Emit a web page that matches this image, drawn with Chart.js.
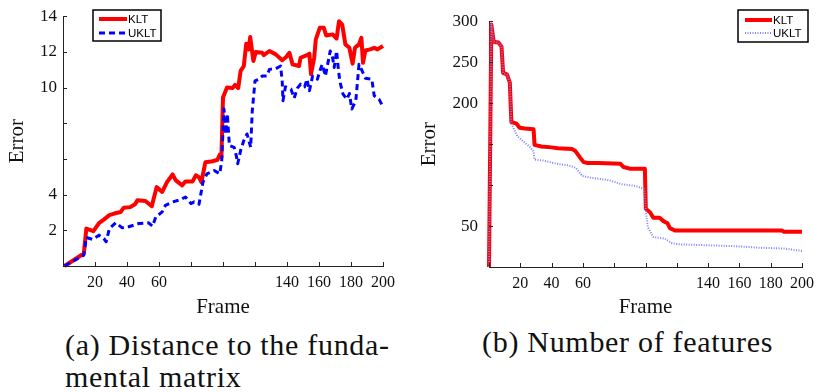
<!DOCTYPE html>
<html>
<head>
<meta charset="utf-8">
<script src="https://cdn.jsdelivr.net/npm/chart.js@4/dist/chart.umd.min.js"></script>
<style>
    body { margin: 0; width: 821px; height: 392px; background: #fff; position: relative; overflow: hidden; }
    .panel { position: absolute; top: 0; }
    .caption { position: absolute; font-family: 'Liberation Serif', serif; font-size: 30px; line-height: 32px; color: #111; letter-spacing: 0.7px; white-space: nowrap; }
</style>
</head>
<body>
<div class="panel" style="left:0;"><canvas id="distanceChart" width="410" height="320"></canvas></div>
<div class="panel" style="left:410px;"><canvas id="featuresChart" width="411" height="320"></canvas></div>
<div class="caption" style="left:65px; top:329px;">(a) Distance to the funda-<br>mental matrix</div>
<div class="caption" style="left:482px; top:326px;">(b) Number of features</div>
<script>
// (a) distance to the fundamental matrix
const kltFramesA = [1, 13, 14.6, 19, 22.5, 25.5, 29, 32, 36, 38, 42, 45, 46.5, 51.5, 55.5, 58.5, 62, 65, 68.5, 70.5,
    74.5, 76.5, 81, 83, 85, 86.5, 89, 93.5, 96.5, 98, 99, 100, 102.5, 106, 107.5, 109.5, 111, 113, 114.5, 116,
    117, 119, 120.5, 124.5, 125.5, 129, 133, 137, 139.5, 141.5, 143.5, 147.5, 148.5, 152.5, 154, 155, 157, 158, 160.5, 163,
    164.5, 168.5, 171, 172.5, 174.5, 176.5, 179, 181, 182.5, 185, 186.5, 187.5, 189, 192, 194.5, 196.5, 200];
const kltErrorA = [0, 0.7, 2.1, 1.95, 2.4, 2.6, 2.85, 2.94, 3.03, 3.27, 3.3, 3.46, 3.68, 3.64, 3.35, 4.42, 4.15, 4.7, 5.13, 4.8,
    4.52, 4.74, 4.74, 5.08, 4.98, 4.7, 5.82, 5.87, 5.95, 6.25, 6.1, 9.44, 10.0, 9.97, 10.15, 9.97, 10.93, 11.2, 12.45, 12.14,
    12.83, 11.49, 12.0, 11.95, 11.82, 12.05, 11.86, 11.53, 11.71, 11.95, 11.3, 11.21, 11.67, 11.82, 11.9, 10.75, 11.67, 12.7, 13.35, 13.35,
    12.92, 12.98, 12.75, 13.72, 13.53, 12.42, 12.23, 11.34, 12.23, 12.42, 12.79, 11.39, 12.08, 12.14, 12.23, 12.14, 12.33];
const ukltFramesA = [1, 13, 14.6, 18.5, 22.5, 25.5, 27, 29, 33, 37, 41, 47.5, 53.5, 56, 58, 62, 64, 68.5, 73.5, 76.5,
    80, 82, 85, 87.5, 90, 94.5, 98, 99.2, 100.6, 101.7, 102.7, 104, 107, 108.3, 109.2, 111, 113, 115, 117.3, 118.3,
    120, 122.5, 124.5, 127.5, 129, 133, 136, 137, 137.5, 139, 142.5, 144.5, 146.5, 148.5, 151, 152.5, 154, 156, 159, 160.5,
    162, 164, 166, 167, 168.5, 169.5, 171, 172, 173, 175, 177.5, 179, 180.5, 183, 185, 187, 189, 193, 194.5, 197.5, 200];
const ukltErrorA = [0, 0.61, 1.6, 1.49, 1.73, 1.54, 1.36, 2.1, 2.42, 2.14, 2.2, 2.38, 2.42, 2.23, 2.75, 3.03, 3.4, 3.59, 3.72, 3.87,
    3.5, 3.59, 3.46, 4.7, 5.17, 5.35, 5.17, 5.91, 8.8, 7.4, 8.52, 6.75, 6.65, 6.19, 5.73, 6.47, 7.03, 7.4, 6.65, 8.7,
    10.37, 10.47, 10.65, 10.65, 11.02, 11.06, 11.21, 10.37, 9.26, 10.04, 9.91, 9.41, 9.97, 10.19, 10.04, 10.47, 9.82, 10.65, 10.47, 10.93,
    11.3, 10.65, 11.58, 12.05, 11.67, 11.12, 12.05, 11.12, 10.37, 9.63, 9.35, 9.67, 8.8, 9.26, 11.3, 10.93, 10.52, 10.47, 9.54, 9.35, 8.92];

// (b) number of features
const kltFramesB = [0, 1.5, 3, 6, 8, 9, 11.5, 13.3, 14.3, 17.5, 19.6, 23, 28.5, 29.1, 33.5, 40, 44, 53, 55, 58,
    60.5, 63, 70, 84, 86, 90, 99.6, 100.2, 103, 105, 109, 111.5, 114, 115.6, 118.8, 187, 188.5, 200];
const kltCountB = [0, 296, 275, 274, 269, 237, 235, 225, 177, 175, 170, 169, 168, 149, 147, 146, 145, 144, 142, 134,
    128, 127, 127, 126, 122, 120, 120, 71, 66.5, 60, 60, 56, 53.5, 47.5, 44.6, 44.6, 43, 43];
const ukltFramesB = [0, 1.5, 3, 6, 8, 9, 11.5, 13.3, 14.3, 18, 22, 26, 28.5, 29.1, 34.5, 43, 51, 55.5, 59.7, 65,
    76.5, 85, 93.5, 99.4, 100.2, 101.5, 105, 112.5, 116.5, 121, 140, 159, 171.5, 188.5, 200];
const ukltCountB = [0, 296, 275, 274, 269, 237, 235, 225, 175, 160, 153, 147, 141, 131, 130, 126, 124, 121, 111, 109,
    106, 101, 99, 95, 69, 48.6, 36.5, 34.6, 29.3, 27.7, 26.5, 25.3, 23.7, 22.5, 19.6];

const frameTicks = [0, 20, 40, 60, 80, 100, 120, 140, 160, 180, 200];
const frameLabels = ['', '20', '40', '60', '', '', '', '140', '160', '180', '200'];
const errorLabelsA = { 2: '2', 4: '4', 10: '10', 12: '12', 14: '14' };
const countLabelsB = { 50: '50', 200: '200', 250: '250', 300: '300' };

const serif = 'Liberation Serif';

const toPoints = (xs, ys) => xs.map((x, i) => ({ x: x, y: ys[i] }));

// matlab style: ticks point into the plot area
const inwardTicks = {
    id: 'inwardTicks',
    afterDatasetsDraw(chart) {
        const ctx = chart.ctx;
        const area = chart.chartArea;
        ctx.save();
        ctx.strokeStyle = '#222';
        ctx.lineWidth = 1;
        const xs = chart.scales.x;
        xs.ticks.forEach((t, i) => {
            const px = Math.round(xs.getPixelForTick(i)) + 0.5;
            ctx.beginPath();
            ctx.moveTo(px, area.bottom);
            ctx.lineTo(px, area.bottom - 4);
            ctx.stroke();
        });
        const ys = chart.scales.y;
        ys.ticks.forEach((t, i) => {
            const py = Math.round(ys.getPixelForTick(i)) + 0.5;
            ctx.beginPath();
            ctx.moveTo(area.left, py);
            ctx.lineTo(area.left + 4, py);
            ctx.stroke();
        });
        ctx.restore();
    },
};

// boxed legend sitting inside the plot
const boxLegend = {
    id: 'boxLegend',
    afterDraw(chart, args, opts) {
        const ctx = chart.ctx;
        const b = opts.box;
        ctx.save();
        ctx.fillStyle = '#fff';
        ctx.fillRect(b[0], b[1], b[2], b[3]);
        ctx.strokeStyle = '#000';
        ctx.lineWidth = 1.5;
        ctx.strokeRect(b[0], b[1], b[2], b[3]);
        chart.data.datasets.forEach((ds, i) => {
            const y = opts.rows[i];
            ctx.beginPath();
            ctx.strokeStyle = ds.borderColor;
            ctx.lineWidth = ds.borderWidth;
            ctx.setLineDash(ds.borderDash || []);
            ctx.moveTo(opts.lineX[0], y);
            ctx.lineTo(opts.lineX[1], y);
            ctx.stroke();
            ctx.setLineDash([]);
            ctx.fillStyle = '#000';
            ctx.font = '11.5px "Liberation Sans"';
            ctx.textBaseline = 'middle';
            ctx.fillText(ds.label, opts.lineX[1] + 1, y + 0.5);
        });
        ctx.restore();
    },
};

function makeChart(id, cfg) {
    return new Chart(document.getElementById(id), {
        type: 'line',
        data: {
            datasets: [
                {
                    label: 'KLT',
                    data: cfg.klt,
                    borderColor: '#ff0000',
                    borderWidth: 4,
                    order: 1,
                },
                {
                    label: 'UKLT',
                    data: cfg.uklt,
                    borderColor: cfg.ukltColor,
                    borderWidth: cfg.ukltWidth,
                    borderDash: cfg.ukltDash,
                    order: 0,
                },
            ],
        },
        options: {
            responsive: false,
            animation: false,
            clip: false,
            elements: {
                point: { radius: 0 },
                line: { tension: 0, borderJoinStyle: 'round', borderCapStyle: 'butt' },
            },
            layout: { padding: cfg.padding },
            plugins: {
                legend: { display: false },
                tooltip: { enabled: false },
                boxLegend: cfg.legend,
            },
            scales: {
                x: {
                    type: 'linear',
                    min: 0,
                    max: 200,
                    afterBuildTicks: (scale) => {
                        scale.ticks = frameTicks.map((v) => ({ value: v }));
                    },
                    afterFit: (scale) => {
                        scale.height = cfg.xHeight;
                    },
                    grid: { display: true, drawOnChartArea: false, drawTicks: false },
                    border: { display: true, color: '#222', width: 1 },
                    ticks: {
                        autoSkip: false,
                        maxRotation: 0,
                        padding: 7,
                        color: '#111',
                        font: { family: serif, size: 16 },
                        callback: (value) => frameLabels[frameTicks.indexOf(value)],
                    },
                    title: {
                        display: true,
                        text: 'Frame',
                        color: '#111',
                        font: { family: serif, size: 21 },
                        padding: { top: 0, bottom: 0 },
                    },
                },
                y: {
                    min: 0,
                    max: cfg.yMax,
                    afterFit: (scale) => {
                        scale.width = cfg.yWidth;
                    },
                    grid: { display: true, drawOnChartArea: false, drawTicks: false },
                    border: { display: true, color: '#222', width: 1 },
                    ticks: {
                        stepSize: cfg.yStep,
                        padding: cfg.yPad,
                        color: '#111',
                        font: { family: serif, size: 17 },
                        callback: (value) => cfg.yLabels[value] || '',
                    },
                    title: {
                        display: true,
                        text: 'Error',
                        color: '#111',
                        font: { family: serif, size: 21 },
                        padding: { top: cfg.titlePad, bottom: 0 },
                    },
                },
            },
        },
        plugins: [inwardTicks, boxLegend],
    });
}

makeChart('distanceChart', {
    klt: toPoints(kltFramesA, kltErrorA),
    uklt: toPoints(ukltFramesA, ukltErrorA),
    ukltColor: '#0000ff',
    ukltWidth: 3,
    ukltDash: [6, 4],
    padding: { top: 15, right: 27, bottom: 0, left: 0 },
    xHeight: 54,
    yWidth: 63,
    yMax: 14,
    yStep: 2,
    yPad: 6,
    yLabels: errorLabelsA,
    titlePad: 5,
    legend: { box: [93, 10, 68, 31], lineX: [99, 127], rows: [19, 33] },
});

makeChart('featuresChart', {
    klt: toPoints(kltFramesB, kltCountB),
    uklt: toPoints(ukltFramesB, ukltCountB),
    ukltColor: '#7f7fff',
    ukltWidth: 2,
    ukltDash: [1, 1.5],
    padding: { top: 18, right: 16, bottom: 0, left: 0 },
    xHeight: 53,
    yWidth: 79,
    yMax: 300,
    yStep: 50,
    yPad: 11,
    yLabels: countLabelsB,
    titlePad: 7,
    legend: { box: [328, 10, 70, 32], lineX: [335, 362], rows: [20, 33] },
});
</script>
</body>
</html>
